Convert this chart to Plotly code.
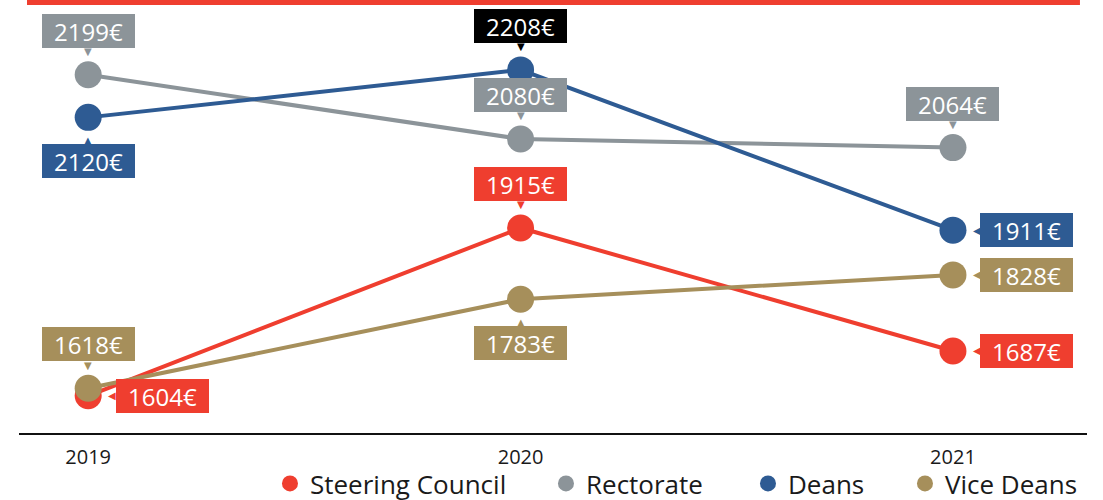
import plotly.graph_objects as go

years = [2019, 2020, 2021]
year_labels = ["2019", "2020", "2021"]

series_names = ["Steering Council", "Rectorate", "Deans", "Vice Deans"]
steering_council = [1604, 1915, 1687]
rectorate = [2199, 2080, 2064]
deans = [2120, 2208, 1911]
vice_deans = [1618, 1783, 1828]

# where each value label sits relative to its point
steering_pos = ["right", "above", "right"]
rectorate_pos = ["above", "above", "above"]
deans_pos = ["below", "above", "right"]
vice_pos = ["above", "below", "right"]

colors = {
    "Steering Council": "#EF3E2F",
    "Rectorate": "#8C9499",
    "Deans": "#2E5B93",
    "Vice Deans": "#A68F5B",
}
# the 2020 Deans label is drawn on black in the original
label_bg_override = {("Deans", 2020): "#000000"}
# room each legend entry takes (text + gap)
legend_widths = {"Steering Council": 231, "Rectorate": 157, "Deans": 112, "Vice Deans": 135}

FONT = "Open Sans, Lato, sans-serif"

values = [steering_council, rectorate, deans, vice_deans]
positions = [steering_pos, rectorate_pos, deans_pos, vice_pos]

fig = go.Figure()

for name, vals in zip(series_names, values):
    fig.add_trace(go.Scatter(
        x=years, y=vals, mode="lines+markers", name=name,
        line=dict(color=colors[name], width=4),
        marker=dict(color=colors[name], size=27),
        showlegend=False,
        hovertemplate="%{x}: %{y}€<extra>" + name + "</extra>",
    ))

# legend-only entries (circle, no line)
for name in series_names:
    fig.add_trace(go.Scatter(
        x=[None], y=[None], mode="markers", name=name,
        marker=dict(color=colors[name], size=22),
        legendwidth=legend_widths[name],
    ))

shift = {"above": (0, 44), "below": (0, -44), "right": (74, 0)}
pointer = {"above": ("▼", 0, 23), "below": ("▲", 0, -23), "right": ("◀", 24, 0)}

for name, vals, pos in zip(series_names, values, positions):
    for x, v, p in zip(years, vals, pos):
        bg = label_bg_override.get((name, x), colors[name])
        sx, sy = shift[p]
        fig.add_annotation(
            x=x, y=v, text=f"{v}€", showarrow=False,
            xshift=sx, yshift=sy,
            bgcolor=bg, width=89, height=30, borderpad=2, borderwidth=0,
            font=dict(family=FONT, size=24, color="white"),
        )
        glyph, px, py = pointer[p]
        fig.add_annotation(
            x=x, y=v, text=glyph, showarrow=False,
            xshift=px, yshift=py,
            font=dict(family="DejaVu Sans", size=10, color=bg),
        )

# red rule across the top
fig.add_shape(
    type="rect", xref="paper", yref="paper",
    x0=0.0075, x1=0.9934, y0=1.0118, y1=1.0236,
    fillcolor="#EF3E2F", line_width=0, layer="above",
)

fig.update_layout(
    width=1103, height=500,
    margin=dict(l=19, r=16, t=10, b=67, autoexpand=False),
    paper_bgcolor="white", plot_bgcolor="white",
    font=dict(family=FONT, color="#1a1a1a"),
    xaxis=dict(
        range=[2018.84, 2021.31],
        tickvals=years, ticktext=year_labels,
        showline=True, linecolor="#111111", linewidth=2,
        showgrid=False, zeroline=False, ticks="",
        tickfont=dict(size=20, color="#1a1a1a"),
        ticklabelstandoff=5,
        fixedrange=True,
    ),
    yaxis=dict(range=[1535, 2319], visible=False, fixedrange=True),
    legend=dict(
        orientation="h", xanchor="left", x=0.235,
        yanchor="middle", y=-0.1195,
        font=dict(size=26, color="#1a1a1a"),
        itemsizing="trace", itemwidth=30,
        bgcolor="rgba(0,0,0,0)",
    ),
)

fig.write_html(
    "out.html",
    config={"displayModeBar": False},
    post_script="document.body.style.margin='0';",
)
